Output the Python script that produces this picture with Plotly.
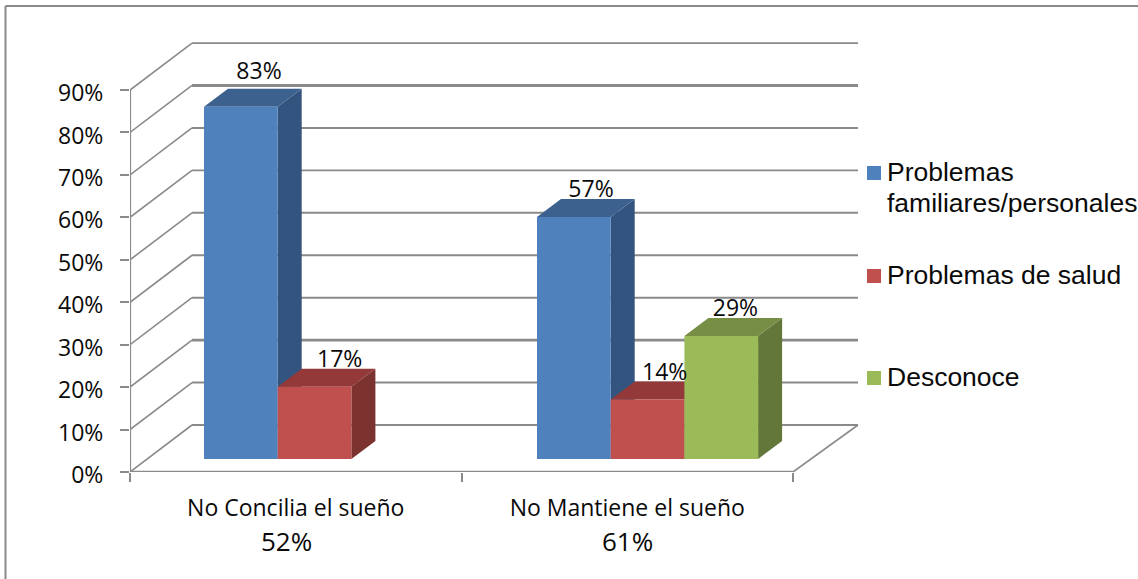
import plotly.graph_objects as go

categories = ["No Concilia el sueño", "No Mantiene el sueño"]
category_totals = ["52%", "61%"]
series_names = ["Problemas<br>familiares/personales", "Problemas de salud", "Desconoce"]
familiares = [83, 57]
salud = [17, 14]
desconoce = [None, 29]
y_ticks = [0, 10, 20, 30, 40, 50, 60, 70, 80, 90]

series_values = [familiares, salud, desconoce]
front_colors = ["#4F81BD", "#C0504D", "#9BBB59"]
top_colors = ["#3C618F", "#93393A", "#768F44"]
side_colors = ["#33547E", "#7C322F", "#64773A"]

# pixel geometry of the plot area
FIG_W, FIG_H = 1138, 579
LEFT, BOTTOM, TOP, RIGHT = 130, 472, 30, 1130
PX_X = 331.5   # pixels per category
PX_Y = 4.244   # pixels per percentage point
GRID = "#8A8A8A"
FONT = "Open Sans"
INK = "#0A0A0A"


def ux(px):
    return px / PX_X


def uy(px):
    return px / PX_Y


def X(px):
    return (px - LEFT) / PX_X


def Y(py):
    return (BOTTOM - py) / PX_Y


def paper_y(py):
    return (BOTTOM - py) / (BOTTOM - TOP)


WALL_DX, WALL_DY = ux(62), uy(47)
BAR_OFF_X, BAR_OFF_Y = ux(18), uy(13)
BAR_DX, BAR_DY = ux(24), uy(18)
BAR_W = ux(73.7)
GROUP_START = [ux(56), ux(389)]
LABEL_DX = [[55, 54], [62, 54], [0, 51]]
LABEL_DY = [[34, 26], [26, 25], [0, 26]]
GRID_WIDTHS = {0: 2.0, 10: 2.0, 20: 2.8, 30: 2.0, 40: 1.8, 50: 2.0, 60: 1.8, 70: 2.0, 80: 3.0, 90: 1.8}
LEGEND_ROWS = [172, 275, 377]
TOTAL_SHIFT = [-9, 0]

fig = go.Figure()


def poly(xs, ys, color):
    fig.add_trace(go.Scatter(x=xs, y=ys, mode="lines", fill="toself", fillcolor=color,
                             line=dict(width=0, color=color), showlegend=False,
                             hoverinfo="skip"))


def line(xs, ys, width=1.6):
    fig.add_trace(go.Scatter(x=xs, y=ys, mode="lines", line=dict(color=GRID, width=width),
                             showlegend=False, hoverinfo="skip", cliponaxis=False))


# walls, floor and gridlines
x_end = len(categories)
for v in y_ticks:
    line([0, WALL_DX], [v, v + WALL_DY], 1.6)
    line([WALL_DX, x_end + WALL_DX + ux(3)], [v + WALL_DY, v + WALL_DY], GRID_WIDTHS[v])
line([0, x_end], [0, 0], 2.6)
line([x_end, x_end + WALL_DX + ux(3)], [0, WALL_DY], 1.6)
line([0, 0], [0, y_ticks[-1]], 2.2)

# bars: each series, each group, three visible faces
for gi in range(len(categories)):
    for si, values in enumerate(series_values):
        v = values[gi]
        if v is None:
            continue
        x0 = GROUP_START[gi] + BAR_OFF_X + si * BAR_W
        x1 = x0 + BAR_W
        y0 = BAR_OFF_Y
        y1 = y0 + v
        poly([x1, x1 + BAR_DX, x1 + BAR_DX, x1, x1],
             [y0, y0 + BAR_DY, y1 + BAR_DY, y1, y0], side_colors[si])
        poly([x0, x1, x1 + BAR_DX, x0 + BAR_DX, x0],
             [y1, y1, y1 + BAR_DY, y1 + BAR_DY, y1], top_colors[si])
        poly([x0, x1, x1, x0, x0], [y0, y0, y1, y1, y0], front_colors[si])

# data labels
lx, ly, lt = [], [], []
for gi in range(len(categories)):
    for si, values in enumerate(series_values):
        v = values[gi]
        if v is None:
            continue
        lx.append(GROUP_START[gi] + BAR_OFF_X + si * BAR_W + ux(LABEL_DX[si][gi]))
        ly.append(BAR_OFF_Y + v + uy(LABEL_DY[si][gi]))
        lt.append(f"{v}%")
fig.add_trace(go.Scatter(x=lx, y=ly, text=lt, mode="text", textposition="middle center",
                         textfont=dict(family=FONT, size=23, color=INK),
                         showlegend=False, hoverinfo="skip", cliponaxis=False))

# legend swatches
fig.add_trace(go.Scatter(x=[X(874)] * 3, y=[Y(r + 1) for r in LEGEND_ROWS], mode="markers",
                         marker=dict(symbol="square", size=14, color=front_colors, line=dict(width=0)),
                         showlegend=False, hoverinfo="skip", cliponaxis=False))

annotations = []
# legend texts
for name, row in zip(series_names, LEGEND_ROWS):
    for li, part in enumerate(name.split("<br>")):
        annotations.append(dict(x=X(884.5), y=Y(row + li * 31), text=part, xanchor="left", yanchor="middle",
                                showarrow=False, xref="x", yref="y",
                                font=dict(family="Liberation Sans", size=26.5, color=INK)))
# category totals under the labels
for i, total in enumerate(category_totals):
    annotations.append(dict(x=i + 0.5 + ux(TOTAL_SHIFT[i]), y=paper_y(541), text=total,
                            xanchor="center", yanchor="middle",
                            showarrow=False, xref="x", yref="paper",
                            font=dict(family=FONT, size=26, color=INK)))

fig.update_layout(
    width=FIG_W, height=FIG_H,
    margin=dict(l=LEFT, r=FIG_W - RIGHT, t=TOP, b=FIG_H - BOTTOM, autoexpand=False),
    paper_bgcolor="white", plot_bgcolor="white",
    showlegend=False,
    annotations=annotations,
    xaxis=dict(range=[0, (RIGHT - LEFT) / PX_X], showgrid=False, zeroline=False, showline=False,
               tickmode="array", tickvals=[0.5, 1.5], ticktext=categories, ticks="", ticklabelstandoff=20,
               tickfont=dict(family=FONT, size=23, color=INK),
               minor=dict(tickmode="array", tickvals=[0, 1, 2], ticks="outside", ticklen=9,
                          tickwidth=2, tickcolor=GRID, showgrid=False)),
    yaxis=dict(range=[0, (BOTTOM - TOP) / PX_Y], showgrid=False, zeroline=False, showline=False,
               tickmode="array", tickvals=y_ticks, ticktext=[f"{v}%" for v in y_ticks],
               ticks="outside", ticklen=9, tickwidth=2, tickcolor=GRID, ticklabelstandoff=12,
               ticklabelshift=3,
               tickfont=dict(family=FONT, size=23, color=INK)),
    shapes=[
        dict(type="line", xref="paper", yref="paper",
             x0=(5.5 - LEFT) / (RIGHT - LEFT), x1=(FIG_W - LEFT) / (RIGHT - LEFT),
             y0=paper_y(6), y1=paper_y(6),
             line=dict(color=GRID, width=2)),
        dict(type="line", xref="paper", yref="paper",
             x0=(5.5 - LEFT) / (RIGHT - LEFT), x1=(5.5 - LEFT) / (RIGHT - LEFT),
             y0=paper_y(6), y1=paper_y(FIG_H),
             line=dict(color=GRID, width=2)),
    ],
)

fig.write_html("out.html", config={"displayModeBar": False},
               post_script="document.body.style.margin='0';document.body.style.overflow='hidden';")
